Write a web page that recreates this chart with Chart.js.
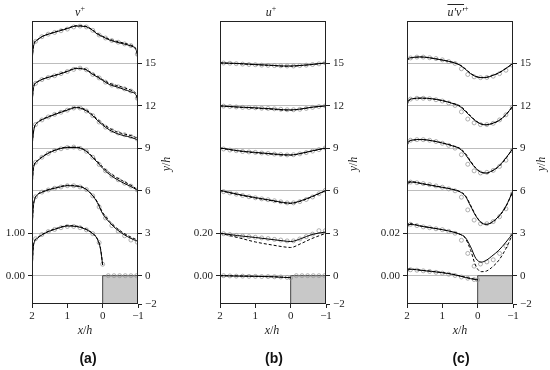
<!DOCTYPE html>
<html>
<head>
<meta charset="utf-8">
<script src="https://cdn.jsdelivr.net/npm/chart.js@4.4.0/dist/chart.umd.min.js"></script>
<style>
body { margin:0; width:550px; height:370px; background:#fff; position:relative; overflow:hidden; font-family:"Liberation Serif", serif; color:#222; }
canvas { position:absolute; top:0; }
.lbl { position:absolute; transform:translate(-50%,-50%); white-space:nowrap; font-size:12px; }
.lbl sup { font-size:8px; font-style:normal; }
.ylab { position:absolute; transform:translate(-50%,-50%) rotate(-90deg); white-space:nowrap; font-size:12px; }
.sub { position:absolute; transform:translate(-50%,-50%); font-family:"Liberation Sans", sans-serif; font-weight:bold; font-size:14px; color:#111; }
</style>
</head>
<body>
<canvas id="cA" width="175" height="370" style="left:0px"></canvas>
<canvas id="cB" width="175" height="370" style="left:188px"></canvas>
<canvas id="cC" width="175" height="370" style="left:375px"></canvas>

<span class="lbl" style="left:80px;top:12px"><i>v</i><sup>+</sup></span>
<span class="lbl" style="left:271px;top:12px"><i>u</i><sup>+</sup></span>
<span class="lbl" style="left:458px;top:12px"><span style="text-decoration:overline"><i>u′v′</i></span><sup>+</sup></span>

<span class="ylab" style="left:166px;top:164px"><i>y</i>/<i>h</i></span>
<span class="ylab" style="left:353px;top:164px"><i>y</i>/<i>h</i></span>
<span class="ylab" style="left:541px;top:164px"><i>y</i>/<i>h</i></span>

<span class="lbl" style="left:85px;top:330px"><i>x</i>/<i>h</i></span>
<span class="lbl" style="left:272px;top:330px"><i>x</i>/<i>h</i></span>
<span class="lbl" style="left:460px;top:330px"><i>x</i>/<i>h</i></span>

<span class="sub" style="left:88px;top:358px">(a)</span>
<span class="sub" style="left:274px;top:358px">(b)</span>
<span class="sub" style="left:461px;top:358px">(c)</span>

<script>
// profiles sit at y/h = 0,3,...,15 ; one left-axis step (3 y/h) = perStep of the quantity
const offsets = [0, 3, 6, 9, 12, 15];
const yTicks = [-2, 0, 3, 6, 9, 12, 15];
const xTicks = [2, 1, 0, -1];

// circle (reference data) positions
const circX = [1.9, 1.72, 1.54, 1.36, 1.18, 1.0, 0.82, 0.64, 0.46, 0.28, 0.1, -0.08, -0.26, -0.44, -0.62, -0.8, -0.98];
const circXBottom = [1.9, 1.72, 1.54, 1.36, 1.18, 1.0, 0.82, 0.64, 0.46, 0.28, 0.1, 0, -0.16, -0.32, -0.48, -0.64, -0.8, -0.96];

// ---- (a) v+
const vLeftLabels = ['0.00', '1.00'];
const vX = [2, 1.97, 1.93, 1.85, 1.7, 1.5, 1.25, 1.0, 0.75, 0.5, 0.3, 0.15, 0, -0.2, -0.4, -0.6, -0.8, -0.93, -0.98, -1];
const vXBottom = [2, 1.97, 1.93, 1.85, 1.7, 1.5, 1.25, 1.0, 0.75, 0.5, 0.3, 0.15, 0.06, 0];
const vSolid = [
	[0, 0.6, 0.8, 0.88, 0.97, 1.05, 1.12, 1.17, 1.16, 1.1, 1.0, 0.86, 0.62, 0.25],
	[0, 0.55, 0.78, 0.9, 0.97, 1.03, 1.08, 1.12, 1.11, 1.05, 0.9, 0.72, 0.46, 0.25, 0.09, -0.03, -0.12, -0.17, -0.18, -0.18],
	[0, 0.45, 0.62, 0.7, 0.8, 0.9, 0.98, 1.02, 1.02, 0.95, 0.8, 0.67, 0.53, 0.38, 0.27, 0.18, 0.1, 0.04, 0.01, 0],
	[0, 0.3, 0.5, 0.6, 0.68, 0.75, 0.83, 0.9, 0.96, 0.9, 0.78, 0.66, 0.55, 0.43, 0.35, 0.3, 0.26, 0.22, 0.2, 0.18],
	[0, 0.35, 0.5, 0.56, 0.63, 0.68, 0.74, 0.81, 0.88, 0.86, 0.75, 0.68, 0.6, 0.5, 0.45, 0.39, 0.33, 0.27, 0.16, 0],
	[0, 0.33, 0.48, 0.55, 0.64, 0.7, 0.76, 0.82, 0.88, 0.87, 0.79, 0.69, 0.63, 0.55, 0.5, 0.46, 0.41, 0.34, 0.2, 0]
];
const vDashed = [
	[0, 0.62, 0.81, 0.89, 0.98, 1.06, 1.13, 1.18, 1.17, 1.11, 1.01, 0.87, 0.64, 0.26],
	[0, 0.57, 0.79, 0.91, 0.98, 1.04, 1.09, 1.13, 1.12, 1.06, 0.91, 0.74, 0.49, 0.28, 0.12, 0.0, -0.09, -0.14, -0.15, -0.15],
	[0, 0.47, 0.63, 0.71, 0.81, 0.91, 0.99, 1.03, 1.03, 0.96, 0.82, 0.7, 0.56, 0.42, 0.31, 0.22, 0.13, 0.06, 0.02, 0],
	[0, 0.32, 0.51, 0.61, 0.69, 0.76, 0.84, 0.91, 0.97, 0.92, 0.8, 0.69, 0.58, 0.47, 0.39, 0.34, 0.3, 0.26, 0.24, 0.22],
	[0, 0.37, 0.51, 0.57, 0.63, 0.69, 0.75, 0.82, 0.89, 0.87, 0.77, 0.7, 0.62, 0.53, 0.48, 0.43, 0.37, 0.3, 0.18, 0],
	[0, 0.35, 0.5, 0.56, 0.64, 0.7, 0.77, 0.83, 0.89, 0.88, 0.8, 0.71, 0.64, 0.57, 0.52, 0.48, 0.43, 0.36, 0.22, 0]
];
const vCircles = [
	[0.87, 0.97, 1.04, 1.09, 1.13, 1.16, 1.16, 1.13, 1.08, 0.99, 0.78, 0.27, 0, 0, 0, 0, 0, 0],
	[0.86, 0.97, 1.02, 1.06, 1.09, 1.12, 1.12, 1.09, 1.03, 0.88, 0.62, 0.36, 0.18, 0.05, -0.06, -0.16, -0.21],
	[0.67, 0.79, 0.88, 0.95, 0.99, 1.02, 1.03, 1.0, 0.93, 0.79, 0.62, 0.47, 0.35, 0.26, 0.18, 0.11, 0.02],
	[0.56, 0.67, 0.74, 0.8, 0.85, 0.9, 0.95, 0.95, 0.88, 0.77, 0.62, 0.5, 0.42, 0.36, 0.32, 0.28, 0.22],
	[0.53, 0.62, 0.67, 0.71, 0.76, 0.81, 0.86, 0.89, 0.85, 0.74, 0.66, 0.56, 0.49, 0.45, 0.4, 0.35, 0.18],
	[0.52, 0.63, 0.69, 0.73, 0.77, 0.81, 0.86, 0.88, 0.86, 0.78, 0.67, 0.6, 0.54, 0.5, 0.46, 0.42, 0.22]
];

// ---- (b) u+
const uLeftLabels = ['0.00', '0.20'];
const uX = [2, 1.5, 1.0, 0.5, 0.2, 0, -0.3, -0.6, -1];
const uXBottom = [2, 1.5, 1.0, 0.5, 0.2, 0];
const uSolid = [
	[0, -0.002, -0.003, -0.005, -0.008, -0.009],
	[0, -0.011, -0.02, -0.03, -0.036, -0.039, -0.025, -0.006, 0.006],
	[0.002, -0.016, -0.032, -0.046, -0.055, -0.058, -0.046, -0.027, 0.002],
	[0.002, -0.011, -0.019, -0.026, -0.03, -0.031, -0.023, -0.012, 0.002],
	[0, -0.005, -0.009, -0.014, -0.018, -0.019, -0.014, -0.006, 0],
	[0.003, 0, -0.005, -0.009, -0.012, -0.012, -0.009, -0.005, 0.003]
];
const uDashed = [
	[0, -0.001, -0.003, -0.005, -0.007, -0.01],
	[0, -0.02, -0.041, -0.056, -0.064, -0.067, -0.048, -0.025, 0],
	[0.001, -0.018, -0.034, -0.048, -0.057, -0.06, -0.048, -0.029, 0.001],
	[0.001, -0.012, -0.021, -0.028, -0.032, -0.032, -0.025, -0.013, 0.001],
	[0, -0.006, -0.011, -0.016, -0.02, -0.02, -0.015, -0.007, 0],
	[0.002, -0.001, -0.006, -0.01, -0.013, -0.013, -0.01, -0.005, 0.002]
];
const uCircles = [
	[0, -0.001, -0.002, -0.002, -0.003, -0.003, -0.004, -0.004, -0.005, -0.006, -0.008, -0.01, 0, 0, 0, 0, 0, 0],
	[-0.002, -0.006, -0.01, -0.013, -0.016, -0.019, -0.022, -0.025, -0.029, -0.032, -0.036, -0.036, -0.027, -0.016, -0.004, 0.012, 0.012],
	[-0.004, -0.01, -0.016, -0.022, -0.028, -0.033, -0.038, -0.042, -0.047, -0.052, -0.057, -0.057, -0.051, -0.041, -0.029, -0.014, 0.002],
	[-0.003, -0.008, -0.011, -0.015, -0.017, -0.019, -0.022, -0.024, -0.027, -0.029, -0.031, -0.03, -0.026, -0.02, -0.013, -0.006, 0.002],
	[-0.001, -0.003, -0.005, -0.007, -0.008, -0.009, -0.011, -0.012, -0.014, -0.016, -0.018, -0.018, -0.016, -0.012, -0.007, -0.003, 0],
	[0.002, 0.001, -0.001, -0.003, -0.005, -0.006, -0.008, -0.009, -0.01, -0.011, -0.012, -0.012, -0.01, -0.008, -0.005, -0.002, 0.003]
];

// ---- (c) u'v'+
const uvLeftLabels = ['0.00', '0.02'];
const uvX = [2, 1.96, 1.85, 1.6, 1.3, 1.0, 0.7, 0.5, 0.35, 0.2, 0.05, -0.1, -0.25, -0.4, -0.6, -0.8, -1];
const uvXBottom = [2, 1.96, 1.85, 1.6, 1.3, 1.0, 0.7, 0.5, 0.35, 0.2, 0];
const uvSolid = [
	[0.0008, 0.003, 0.003, 0.0025, 0.002, 0.0014, 0.0006, -0.0002, -0.0008, -0.0014, -0.002],
	[0.0014, 0.0041, 0.0041, 0.0033, 0.0025, 0.0017, 0.0006, -0.0005, -0.002, -0.0064, -0.0119, -0.0136, -0.0127, -0.0108, -0.008, -0.0042, 0],
	[0.0019, 0.0038, 0.0041, 0.0034, 0.0025, 0.0016, 0.0006, -0.0005, -0.0025, -0.0072, -0.0119, -0.015, -0.0158, -0.0148, -0.0119, -0.0072, 0],
	[0.0011, 0.003, 0.0039, 0.0042, 0.0036, 0.0025, 0.0011, -0.0003, -0.0028, -0.0064, -0.0095, -0.0113, -0.0116, -0.0106, -0.0083, -0.0045, 0],
	[0.0003, 0.0023, 0.0034, 0.0037, 0.0034, 0.0025, 0.0011, -0.0003, -0.0025, -0.005, -0.0072, -0.0086, -0.0089, -0.0083, -0.0069, -0.0041, 0],
	[0.0012, 0.0023, 0.0028, 0.0031, 0.0025, 0.0016, 0.0005, -0.0008, -0.0027, -0.0048, -0.0062, -0.0067, -0.0066, -0.0058, -0.0044, -0.0023, 0]
];
const uvDashed = [
	[0.0006, 0.0032, 0.0031, 0.0026, 0.0021, 0.0015, 0.0007, -0.0001, -0.0007, -0.0013, -0.0018],
	[0.001, 0.0048, 0.0044, 0.0034, 0.0026, 0.0017, 0.0006, -0.0005, -0.0023, -0.008, -0.0155, -0.0181, -0.0178, -0.0161, -0.0127, -0.0072, 0],
	[0.0018, 0.0042, 0.0043, 0.0035, 0.0026, 0.0017, 0.0007, -0.0004, -0.0022, -0.0068, -0.0117, -0.0149, -0.0158, -0.015, -0.0122, -0.0075, 0],
	[0.001, 0.0028, 0.0038, 0.0041, 0.0036, 0.0026, 0.0012, 0, -0.0023, -0.006, -0.0093, -0.0112, -0.0117, -0.0108, -0.0086, -0.0048, 0],
	[0.0002, 0.0021, 0.0033, 0.0036, 0.0033, 0.0025, 0.0012, 0, -0.0021, -0.0047, -0.007, -0.0085, -0.0089, -0.0084, -0.007, -0.0042, 0],
	[0.001, 0.0021, 0.0027, 0.003, 0.0025, 0.0016, 0.0005, -0.0007, -0.0025, -0.0046, -0.0061, -0.0066, -0.0065, -0.0058, -0.0045, -0.0024, 0]
];
const uvCircles = [
	[0.0028, 0.0026, 0.0023, 0.002, 0.0016, 0.0012, 0.0007, 0.0001, -0.0006, -0.0012, -0.0018, -0.002],
	[0.0042, 0.0036, 0.003, 0.0026, 0.0021, 0.0017, 0.0009, 0, -0.0033, -0.0095, -0.0155, -0.0145, -0.0135, -0.0125, -0.0095, -0.006, -0.001],
	[0.0041, 0.0038, 0.0034, 0.0029, 0.0023, 0.0017, 0.0009, 0, -0.003, -0.009, -0.0138, -0.0155, -0.0155, -0.0145, -0.0122, -0.0085, -0.0015],
	[0.0038, 0.0041, 0.0041, 0.0038, 0.0032, 0.0024, 0.0014, 0.0001, -0.003, -0.0075, -0.0106, -0.0116, -0.0113, -0.0104, -0.0085, -0.0056, -0.001],
	[0.0032, 0.0036, 0.0036, 0.0034, 0.0029, 0.0023, 0.0014, 0.0002, -0.0028, -0.0062, -0.008, -0.0088, -0.0088, -0.0082, -0.0066, -0.0042, -0.0008],
	[0.0026, 0.003, 0.003, 0.0027, 0.0023, 0.0017, 0.0009, 0, -0.0025, -0.0052, -0.0063, -0.0067, -0.0066, -0.006, -0.0048, -0.0032, -0.0008]
];

// obstacle outline (x/h, y/h)
const blockX = [0, 0, -1];
const blockY = [-2, 0, 0];

const TICKFONT = {family: 'Liberation Serif', size: 11};
const INK = '#222';

function toPoints(xs, vals, off, perStep) {
	let pts = [];
	for (let i = 0; i < vals.length; i++) {
		pts.push({x: xs[i], y: off + vals[i] * 3 / perStep});
	}
	return pts;
}

function minusSign(v) {
	return v < 0 ? '\u2212' + (-v) : String(v);
}

const framePlugin = {
	id: 'frame',
	afterDraw(chart) {
		let a = chart.chartArea;
		let ctx = chart.ctx;
		ctx.save();
		ctx.strokeStyle = INK;
		ctx.lineWidth = 1;
		let l = Math.round(a.left) + 0.5, t = Math.round(a.top) + 0.5;
		let r = Math.round(a.right) - 0.5, b = Math.round(a.bottom) - 0.5;
		ctx.strokeRect(l, t, r - l, b - t);
		ctx.restore();
	}
};

function makePanel(canvasId, xs, xsBottom, solid, dashed, circles, perStep, leftLabels) {
	let sets = [];
	for (let k = 0; k < offsets.length; k++) {
		let lx = (k === 0) ? xsBottom : xs;
		sets.push({
			data: toPoints(lx, solid[k], offsets[k], perStep),
			borderColor: '#000', borderWidth: 1, pointRadius: 0,
			cubicInterpolationMode: 'monotone'
		});
		sets.push({
			data: toPoints(lx, dashed[k], offsets[k], perStep),
			borderColor: '#000', borderWidth: 1, borderDash: [3, 2], pointRadius: 0,
			cubicInterpolationMode: 'monotone'
		});
	}
	for (let k = 0; k < offsets.length; k++) {
		let cx = (k === 0) ? circXBottom : circX;
		sets.push({
			data: toPoints(cx, circles[k], offsets[k], perStep),
			showLine: false, pointStyle: 'circle', pointRadius: 2,
			pointBorderColor: '#9a9a9a', pointBackgroundColor: 'rgba(255,255,255,0)', pointBorderWidth: 0.8
		});
	}
	let block = [];
	for (let i = 0; i < blockX.length; i++) block.push({x: blockX[i], y: blockY[i]});
	sets.push({
		data: block, borderColor: '#444', borderWidth: 1, pointRadius: 0, tension: 0,
		backgroundColor: '#c8c8c8', fill: {value: -2}
	});

	return new Chart(document.getElementById(canvasId).getContext('2d'), {
		type: 'line',
		data: {datasets: sets},
		plugins: [framePlugin],
		options: {
			responsive: false,
			animation: false,
			devicePixelRatio: 1,
			layout: {padding: {top: 21, left: 0, right: 0, bottom: 0}},
			plugins: {legend: {display: false}, tooltip: {enabled: false}},
			scales: {
				x: {
					type: 'linear', min: -1, max: 2, reverse: true,
					afterBuildTicks: function(s) { s.ticks = xTicks.map(v => ({value: v})); },
					afterFit: function(s) { s.height = 66; },
					border: {display: false},
					grid: {drawOnChartArea: false, tickLength: 4, tickColor: INK},
					ticks: {autoSkip: false, maxRotation: 0, padding: 2, font: TICKFONT, color: INK, callback: v => minusSign(v)}
				},
				yl: {
					type: 'linear', position: 'left', min: -2, max: 18,
					afterBuildTicks: function(s) { s.ticks = [{value: 0}, {value: 3}]; },
					afterFit: function(s) { s.width = 32; },
					border: {display: false},
					grid: {drawOnChartArea: false, tickLength: 4, tickColor: INK},
					ticks: {autoSkip: false, padding: 3, font: TICKFONT, color: INK, callback: v => leftLabels[v / 3]}
				},
				y: {
					type: 'linear', position: 'right', min: -2, max: 18,
					afterBuildTicks: function(s) { s.ticks = yTicks.map(v => ({value: v})); },
					afterFit: function(s) { s.width = 37; },
					border: {display: false},
					grid: {
						color: ctx => (ctx.tick && ctx.tick.value === -2) ? 'rgba(0,0,0,0)' : '#bdbdbd',
						tickLength: 4, tickColor: INK
					},
					ticks: {autoSkip: false, padding: 3, font: TICKFONT, color: INK, callback: v => minusSign(v)}
				}
			}
		}
	});
}

makePanel('cA', vX, vXBottom, vSolid, vDashed, vCircles, 1.0, vLeftLabels);
makePanel('cB', uX, uXBottom, uSolid, uDashed, uCircles, 0.2, uLeftLabels);
makePanel('cC', uvX, uvXBottom, uvSolid, uvDashed, uvCircles, 0.02, uvLeftLabels);
</script>
</body>
</html>
